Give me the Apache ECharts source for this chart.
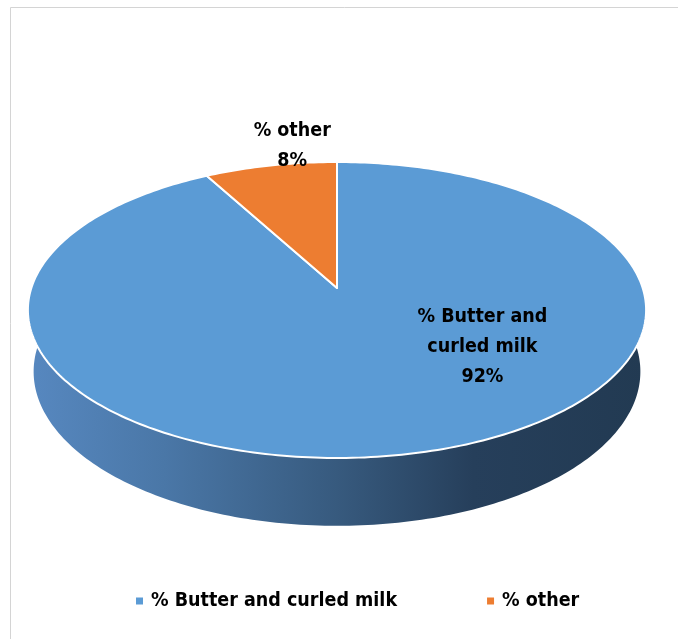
<!DOCTYPE html>
<html>
<head>
<meta charset="utf-8">
<script src="https://cdn.jsdelivr.net/npm/echarts@6.0.0/dist/echarts.min.js"></script>
<style>
  html, body { margin: 0; padding: 0; background: #ffffff; }
  #chart { width: 678px; height: 639px; }
</style>
</head>
<body>
<div id="chart"></div>
<script>
// Share of production by product group (percent)
const categories = ['% Butter and curled milk', '% other'];
const sliceLabels = ['% Butter and\ncurled milk', '% other'];
const shares = [92, 8];
const sliceColors = ['#5b9bd5', '#ed7d31'];

// Label anchors on the disc: angle from 12 o'clock (clockwise, degrees) and radius fraction
const labelAnchors = [[130.5, 0.59], [351.5, 1.16]];

const FONT = "'Liberation Sans Narrow', 'DejaVu Sans Condensed', 'Open Sans', sans-serif";

// Perspective camera for the tilted disc
const CX = 337, CY = 288;      // projected disc centre
const FOCAL = 1812;            // focal length in pixels
const DIST = 5.928;            // camera distance (disc radius = 1)
const TILT = 28.26 * Math.PI / 180;
const THICK = 0.231;           // disc thickness
const sT = Math.sin(TILT), cT = Math.cos(TILT);

function project(thetaDeg, r, y) {
  const t = thetaDeg * Math.PI / 180;
  const X = r * Math.sin(t);
  const Z = -r * Math.cos(t);
  const depth = DIST - y * sT - Z * cT;
  const ycam = y * cT - Z * sT;
  return [CX + FOCAL * X / depth, CY - FOCAL * ycam / depth];
}

function arc(a, b, y) {
  const pts = [];
  const n = Math.max(2, Math.ceil(Math.abs(b - a)));
  for (let k = 0; k <= n; k++) pts.push(project(a + (b - a) * k / n, 1, y));
  return pts;
}

const wallGradient = {
  type: 'linear', x: 28, y: 0, x2: 646, y2: 0, global: true,
  colorStops: [
    { offset: 0, color: '#5788c0' },
    { offset: 0.22, color: '#4a77a7' },
    { offset: 0.5, color: '#375a7e' },
    { offset: 0.72, color: '#263f5b' },
    { offset: 1, color: '#223a52' }
  ]
};

function sliceRenderer(idx) {
  return function (params, api) {
    const total = shares.reduce((s, v) => s + v, 0);
    let before = 0;
    for (let k = 0; k < idx; k++) before += shares[k];
    const v = api.value(0);
    const a0 = before / total * 360;
    const a1 = (before + v) / total * 360;

    const children = [];

    // Outer wall, only the part facing the viewer
    const lo = Math.max(a0, 60), hi = Math.min(a1, 300);
    if (hi > lo) {
      const pts = arc(lo, hi, 0).concat(arc(lo, hi, -THICK).reverse());
      children.push({
        type: 'polygon', z2: 1,
        shape: { points: pts },
        style: { fill: wallGradient, stroke: null }
      });
    }

    // Top face
    const topPts = [project(0, 0, 0)].concat(arc(a0, a1, 0));
    children.push({
      type: 'polygon', z2: 5,
      shape: { points: topPts },
      style: { fill: sliceColors[idx], stroke: '#ffffff', lineWidth: 2, lineJoin: 'round' }
    });

    // Data label
    const lp = project(labelAnchors[idx][0], labelAnchors[idx][1], 0);
    children.push({
      type: 'text', z2: 10,
      x: lp[0], y: lp[1],
      style: {
        text: sliceLabels[idx] + '\n' + v + '%',
        fill: '#000000',
        font: 'bold 19.5px ' + FONT,
        align: 'center', verticalAlign: 'middle',
        lineHeight: 30
      }
    });

    return { type: 'group', children: children };
  };
}

const chart = echarts.init(document.getElementById('chart'), null, { renderer: 'canvas' });

chart.setOption({
  animation: false,
  backgroundColor: '#ffffff',
  legend: {
    left: 131, top: 586,
    icon: 'rect', itemWidth: 7, itemHeight: 7, itemGap: 90,
    data: categories,
    textStyle: { fontFamily: FONT, fontWeight: 'bold', fontSize: 19.5, color: '#000000', padding: [0, 0, 0, 3] }
  },
  graphic: [{
    type: 'rect', silent: true,
    shape: { x: 10.5, y: 7.5, width: 720, height: 700 },
    style: { fill: null, stroke: '#d4d4d4', lineWidth: 1 }
  }],
  series: categories.map((name, i) => ({
    type: 'custom',
    name: name,
    coordinateSystem: 'none',
    itemStyle: { color: sliceColors[i] },
    renderItem: sliceRenderer(i),
    data: [[shares[i]]]
  }))
});
</script>
</body>
</html>
